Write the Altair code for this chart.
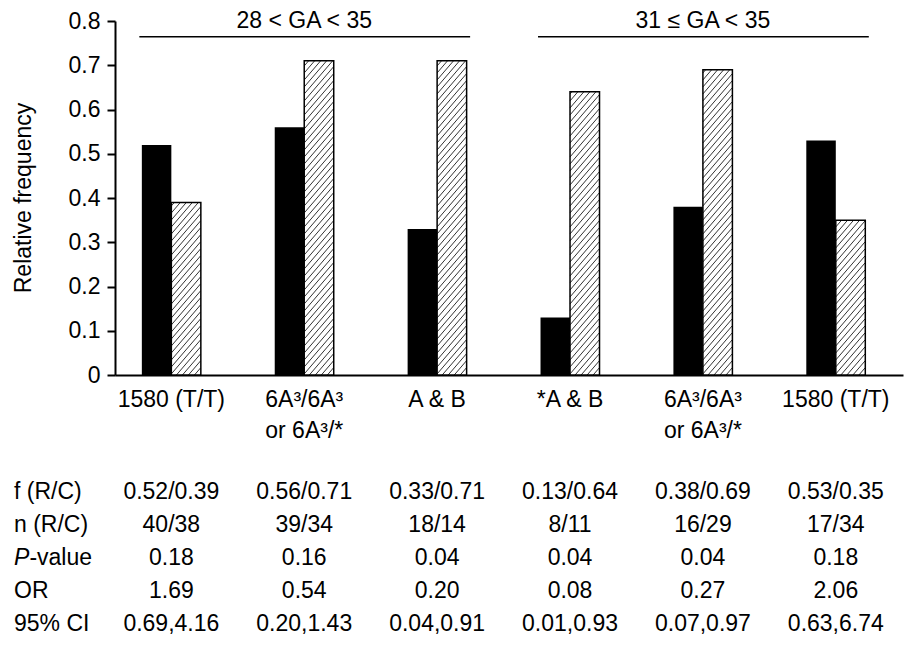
import altair as alt
import pandas as pd

# ---------------- data ----------------
categories = ["1580 (T/T)", "6A³/6A³\nor 6A³/*", "A & B", "*A & B", "6A³/6A³\nor 6A³/*", "1580 (T/T)"]
cases = [0.52, 0.56, 0.33, 0.13, 0.38, 0.53]      # R (solid black bars)
controls = [0.39, 0.71, 0.71, 0.64, 0.69, 0.35]   # C (hatched bars)

group_labels = ["28 < GA < 35", "31 ≤ GA < 35"]
group_first = [0, 3]
group_last = [2, 5]

y_ticks = [0, 0.1, 0.2, 0.3, 0.4, 0.5, 0.6, 0.7, 0.8]

row_labels = ["f (R/C)", "n (R/C)", "P-value", "OR", "95% CI"]
f_rc = ["0.52/0.39", "0.56/0.71", "0.33/0.71", "0.13/0.64", "0.38/0.69", "0.53/0.35"]
n_rc = ["40/38", "39/34", "18/14", "8/11", "16/29", "17/34"]
p_value = ["0.18", "0.16", "0.04", "0.04", "0.04", "0.18"]
odds_ratio = ["1.69", "0.54", "0.20", "0.08", "0.27", "2.06"]
ci95 = ["0.69,4.16", "0.20,1.43", "0.04,0.91", "0.01,0.93", "0.07,0.97", "0.63,6.74"]
table_rows = [f_rc, n_rc, p_value, odds_ratio, ci95]

# ---------------- layout / style ----------------
FONT = "Liberation Sans"
FS = 23
W, H = 788, 354
PAD = {"left": 107, "top": 13, "right": 6, "bottom": 266}
STEP = 134.6          # px between group centres
FIRST = 52            # px from left of plot to first group centre
XMIN = -FIRST / STEP
XMAX = XMIN + W / STEP
YMAX = 0.8
PXY = H / YMAX
BW = 29.5             # bar width px
SLOPE = 1.15          # hatch slope (px/px)
GAP = 7.0             # vertical hatch spacing px

idx = list(range(len(categories)))
bars = pd.DataFrame({"idx": idx, "case": cases, "control": controls, "label": categories})

xscale = alt.Scale(domain=[XMIN, XMAX], nice=False, zero=False)
yscale = alt.Scale(domain=[0, YMAX], nice=False)
xaxis = alt.Axis(labels=False, ticks=False, grid=False, title=None,
                 domainColor="black", domainWidth=2)
yaxis = alt.Axis(values=y_ticks, grid=False, title=None,
                 labelExpr="datum.value == 0 ? '0' : format(datum.value, '.1f')",
                 domainColor="black", domainWidth=2, tickColor="black", tickWidth=2,
                 tickSize=8, labelFont=FONT, labelFontSize=FS, labelColor="black",
                 labelPadding=7)


def X(field):
    return alt.X(field, type="quantitative", scale=xscale, axis=xaxis)


def Y(field):
    return alt.Y(field, type="quantitative", scale=yscale, axis=yaxis, stack=None)


base = alt.Chart(bars)

black = base.mark_bar(orient="vertical", size=BW, xOffset=-BW / 2, color="black").encode(
    x=X("idx"), y=Y("case"))

white = base.mark_bar(orient="vertical", size=BW, xOffset=BW / 2, fill="white",
                      strokeWidth=0).encode(x=X("idx"), y=Y("control"))

hatch = base.transform_calculate(
    h=f"datum.control * {PXY}",
    ks="sequence(0, 90)",
).transform_flatten(["ks"]).transform_calculate(
    c=f"-{BW * SLOPE} + datum.ks * {GAP}"
).transform_filter("datum.c < datum.h").transform_calculate(
    u0=f"max(0, -datum.c / {SLOPE})",
    u1=f"min({BW}, (datum.h - datum.c) / {SLOPE})",
).transform_filter("datum.u1 > datum.u0").transform_calculate(
    x0=f"datum.idx + datum.u0 / {STEP}",
    x1=f"datum.idx + datum.u1 / {STEP}",
    y0=f"(datum.c + {SLOPE} * datum.u0) / {PXY}",
    y1=f"(datum.c + {SLOPE} * datum.u1) / {PXY}",
).mark_rule(stroke="#333333", strokeWidth=1).encode(
    x=X("x0"), x2="x1:Q", y=Y("y0"), y2="y1:Q")

outline = base.mark_bar(orient="vertical", size=BW, xOffset=BW / 2, fill="transparent",
                        stroke="black", strokeWidth=1.5).encode(x=X("idx"), y=Y("control"))

xlabels = base.mark_text(font=FONT, fontSize=FS, lineBreak="\n", lineHeight=31,
                         baseline="alphabetic", align="center", color="black").encode(
    x=X("idx"), y=alt.value(386), text="label:N")

groups = pd.DataFrame({"first": group_first, "last": group_last, "label": group_labels})
glines = alt.Chart(groups).mark_rule(color="black", strokeWidth=1.5, xOffset=-32,
                                     x2Offset=33).encode(
    x=X("first"), x2="last:Q", y=alt.value(15.7))
gtext = alt.Chart(groups).transform_calculate(
    mid="(datum.first + datum.last) / 2"
).mark_text(font=FONT, fontSize=FS, baseline="alphabetic", align="center",
            color="black").encode(x=X("mid"), y=alt.value(6.5), text="label:N")

ytitle = alt.Chart(pd.DataFrame({"t": ["Relative frequency"]})).mark_text(
    font=FONT, fontSize=FS, angle=270, align="center", baseline="middle",
    color="black").encode(x=alt.value(-91.5), y=alt.value(177), text="t:N")

layers = [black, white, hatch, outline, xlabels, glines, gtext, ytitle]

ROW0 = 478
ROWSTEP = 33
LABEL_X = -101
for r, (lab, vals) in enumerate(zip(row_labels, table_rows)):
    yb = ROW0 + r * ROWSTEP
    df = pd.DataFrame({"idx": idx, "v": vals})
    layers.append(alt.Chart(df).mark_text(font=FONT, fontSize=FS, baseline="alphabetic",
                                          align="center", color="black").encode(
        x=X("idx"), y=alt.value(yb), text="v:N"))
    if lab == "P-value":
        layers.append(alt.Chart(pd.DataFrame({"t": ["P"]})).mark_text(
            font=FONT, fontSize=FS, fontStyle="italic", baseline="alphabetic",
            align="left", color="black").encode(
            x=alt.value(LABEL_X), y=alt.value(yb), text="t:N"))
        layers.append(alt.Chart(pd.DataFrame({"t": ["-value"]})).mark_text(
            font=FONT, fontSize=FS, baseline="alphabetic", align="left",
            color="black").encode(
            x=alt.value(LABEL_X + 15.4), y=alt.value(yb), text="t:N"))
    else:
        layers.append(alt.Chart(pd.DataFrame({"t": [lab]})).mark_text(
            font=FONT, fontSize=FS, baseline="alphabetic", align="left",
            color="black").encode(
            x=alt.value(LABEL_X), y=alt.value(yb), text="t:N"))

chart = alt.layer(*layers).properties(
    width=W, height=H, padding=PAD,
    autosize=alt.AutoSizeParams(type="none"),
    background="white",
).configure_view(stroke="transparent")

chart.save("out.html", embed_options={"renderer": "svg", "actions": False})
